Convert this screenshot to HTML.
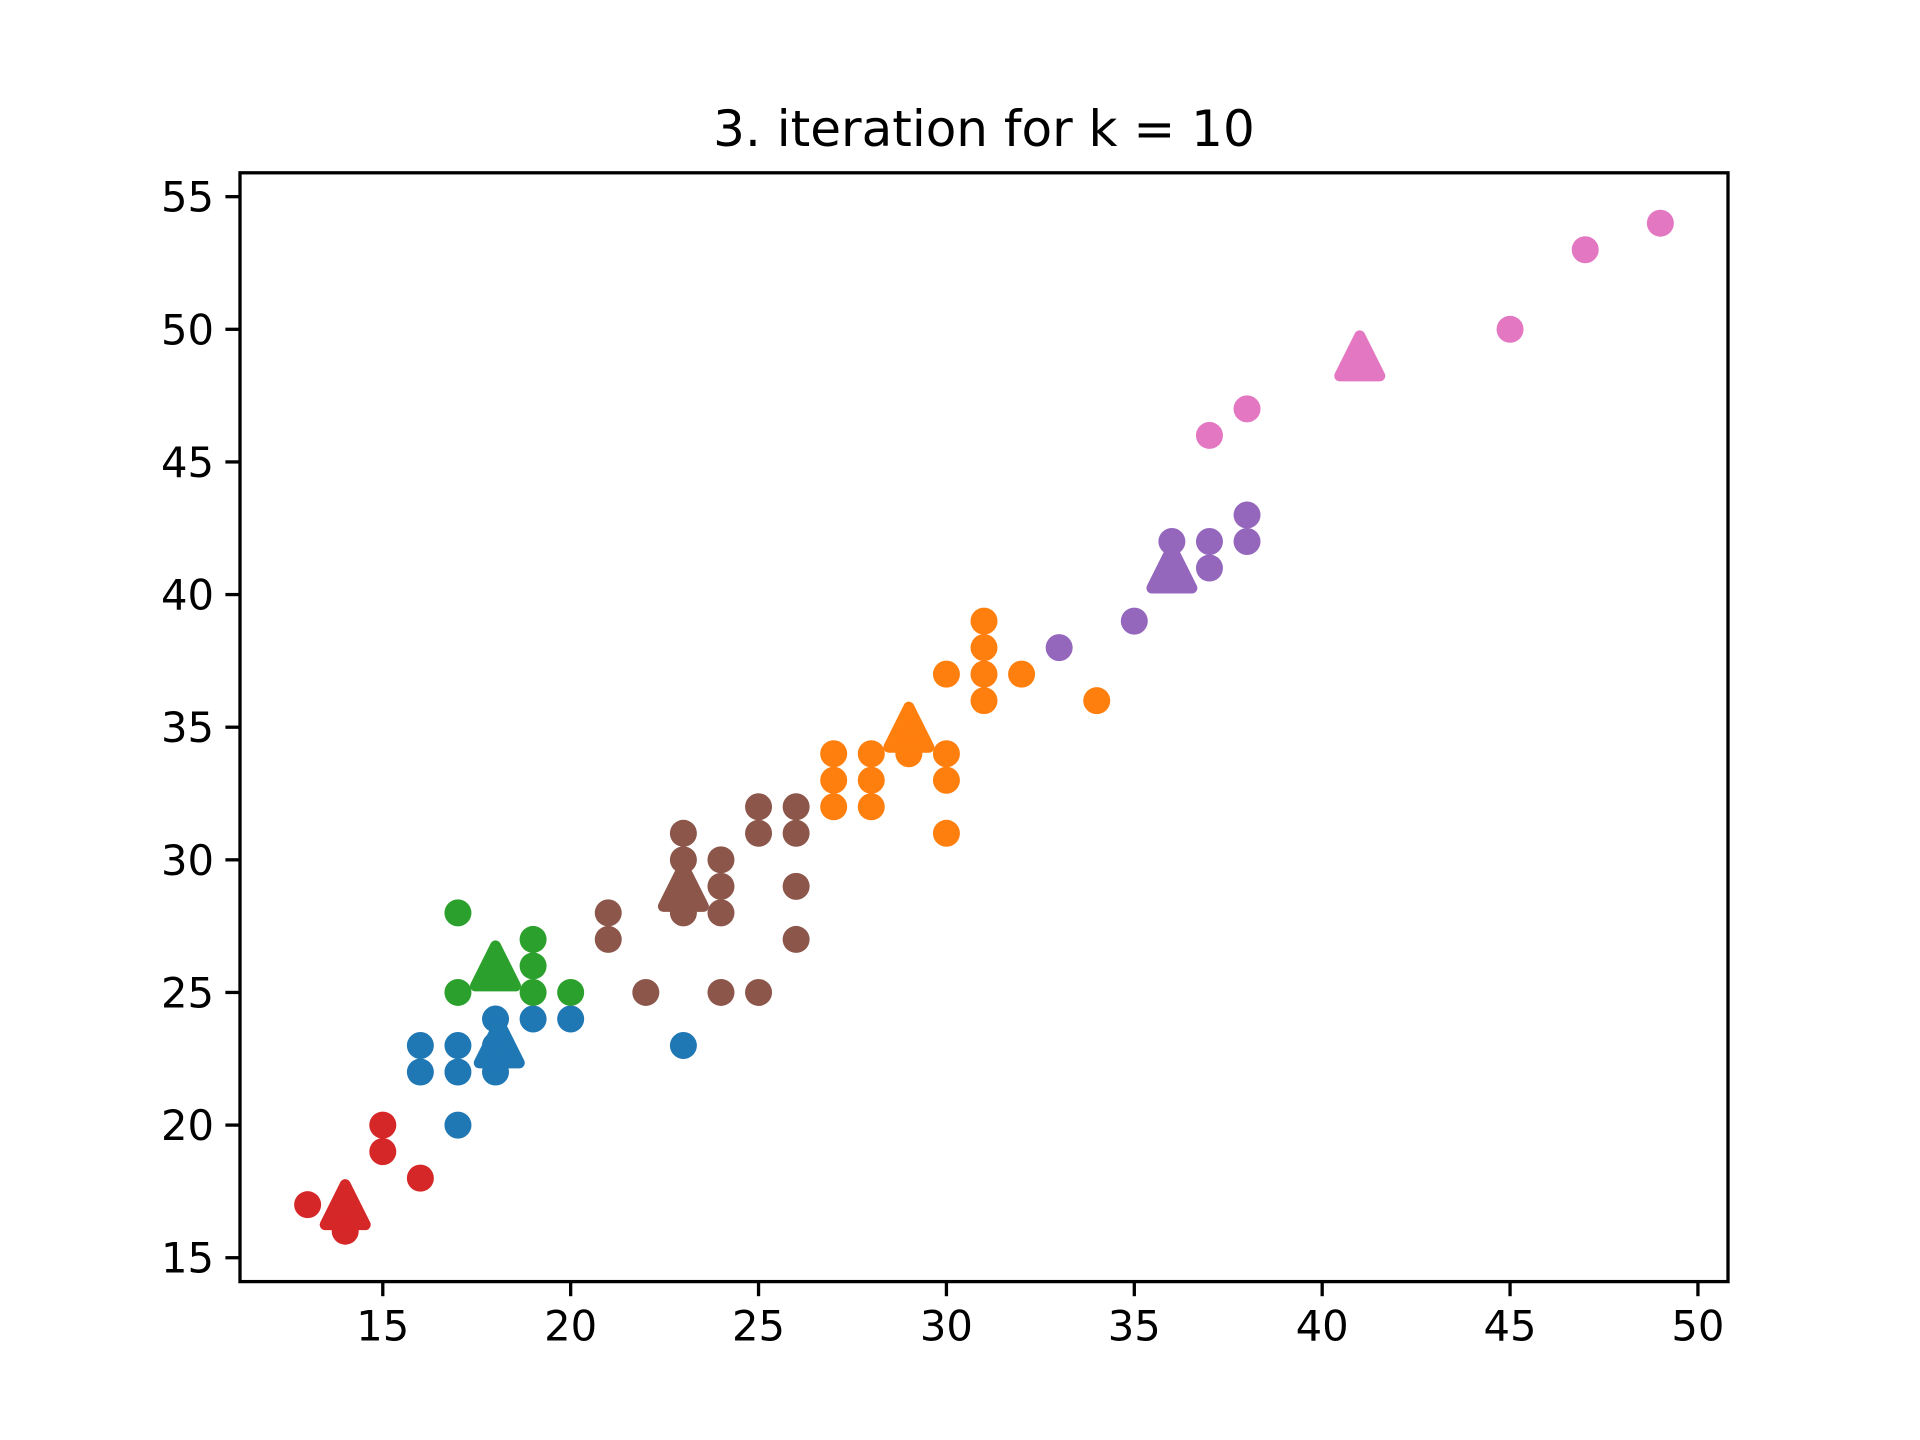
<!DOCTYPE html>
<html><head><meta charset="utf-8"><style>body{margin:0;background:#fff}svg{display:block}</style></head>
<body>
<svg id="chart" width="1920" height="1440" xmlns="http://www.w3.org/2000/svg" font-family="'DejaVu Sans','Liberation Sans',sans-serif">
<rect width="1920" height="1440" fill="#fff"/>
<text x="984" y="146" font-size="50" text-anchor="middle">3. iteration for k = 10</text>
<g id="marks"></g>
<g id="axes"></g>
</svg>
<script>
const clusterNames=['blue','red','green','brown','orange','purple','pink'];
const clusterColors=['#1f77b4','#d62728','#2ca02c','#8c564b','#ff7f0e','#9467bd','#e377c2'];
const xsBlue=[16,16,17,17,17,18,18,18,19,20,23];
const ysBlue=[23,22,23,22,20,24,23,22,24,24,23];
const xsRed=[13,14,14,15,15,16];
const ysRed=[17,16,17,20,19,18];
const xsGreen=[17,17,18,19,19,19,20];
const ysGreen=[28,25,26,27,26,25,25];
const xsBrown=[21,21,22,23,23,23,23,24,24,24,24,25,25,25,26,26,26,26];
const ysBrown=[28,27,25,31,30,29,28,30,29,28,25,32,31,25,32,31,29,27];
const xsOrange=[27,27,27,28,28,28,29,30,30,30,30,31,31,31,31,32,34];
const ysOrange=[34,33,32,34,33,32,34,37,34,33,31,39,38,37,36,37,36];
const xsPurple=[33,35,36,36,37,37,38,38];
const ysPurple=[38,39,42,41,42,41,43,42];
const xsPink=[37,38,45,47,49];
const ysPink=[46,47,50,53,54];
const centroidX=[18.1,14,18,23,29,36,41];
const centroidY=[23.1,17,26,29,35,41,49];
const xTicks=[15,20,25,30,35,40,45,50];
const yTicks=[15,20,25,30,35,40,45,50,55];
const X0=240,X1=1728,Y0=172.8,Y1=1281.6;
const xmin=11.2,xmax=50.8,ymin=14.1,ymax=55.9;
const sx=v=>X0+(v-xmin)/(xmax-xmin)*(X1-X0);
const sy=v=>Y1-(v-ymin)/(ymax-ymin)*(Y1-Y0);
const NS='http://www.w3.org/2000/svg';
const marks=document.getElementById('marks'),axes=document.getElementById('axes');
const series=[[xsBlue,ysBlue],[xsRed,ysRed],[xsGreen,ysGreen],[xsBrown,ysBrown],[xsOrange,ysOrange],[xsPurple,ysPurple],[xsPink,ysPink]];
series.forEach((s,k)=>{
  s[0].forEach((x,i)=>{
    const c=document.createElementNS(NS,'circle');
    c.setAttribute('cx',sx(x));c.setAttribute('cy',sy(s[1][i]));c.setAttribute('r',13.5);c.setAttribute('fill',clusterColors[k]);
    
    
    marks.appendChild(c);
  });
});
centroidX.forEach((x,k)=>{
  const cx=sx(x),cy=sy(centroidY[k]),h=20;
  const p=document.createElementNS(NS,'polygon');
  p.setAttribute('points',`${cx},${cy-h} ${cx-h},${cy+h} ${cx+h},${cy+h}`);
  p.setAttribute('fill',clusterColors[k]);p.setAttribute('stroke',clusterColors[k]);p.setAttribute('stroke-width',11);p.setAttribute('stroke-linejoin','round');
  
  
  marks.appendChild(p);
});
const frame=document.createElementNS(NS,'rect');
frame.setAttribute('x',X0);frame.setAttribute('y',Y0);frame.setAttribute('width',X1-X0);frame.setAttribute('height',Y1-Y0);
frame.setAttribute('fill','none');frame.setAttribute('stroke','#000');frame.setAttribute('stroke-width',3.3);


axes.appendChild(frame);
xTicks.forEach(t=>{
  const l=document.createElementNS(NS,'line');
  l.setAttribute('x1',sx(t));l.setAttribute('x2',sx(t));l.setAttribute('y1',Y1);l.setAttribute('y2',Y1+14.6);l.setAttribute('stroke','#000');l.setAttribute('stroke-width',3.3);
  
  
  axes.appendChild(l);
  const tx=document.createElementNS(NS,'text');
  tx.setAttribute('x',sx(t));tx.setAttribute('y',Y1+59);tx.setAttribute('font-size',41.7);tx.setAttribute('text-anchor','middle');tx.textContent=t;
  
  
  axes.appendChild(tx);
});
yTicks.forEach(t=>{
  const l=document.createElementNS(NS,'line');
  l.setAttribute('x1',X0-14.6);l.setAttribute('x2',X0);l.setAttribute('y1',sy(t));l.setAttribute('y2',sy(t));l.setAttribute('stroke','#000');l.setAttribute('stroke-width',3.3);
  
  
  axes.appendChild(l);
  const tx=document.createElementNS(NS,'text');
  tx.setAttribute('x',X0-26);tx.setAttribute('y',sy(t)+15);tx.setAttribute('font-size',41.7);tx.setAttribute('text-anchor','end');tx.textContent=t;
  
  
  axes.appendChild(tx);
});
</script>
</body></html>
